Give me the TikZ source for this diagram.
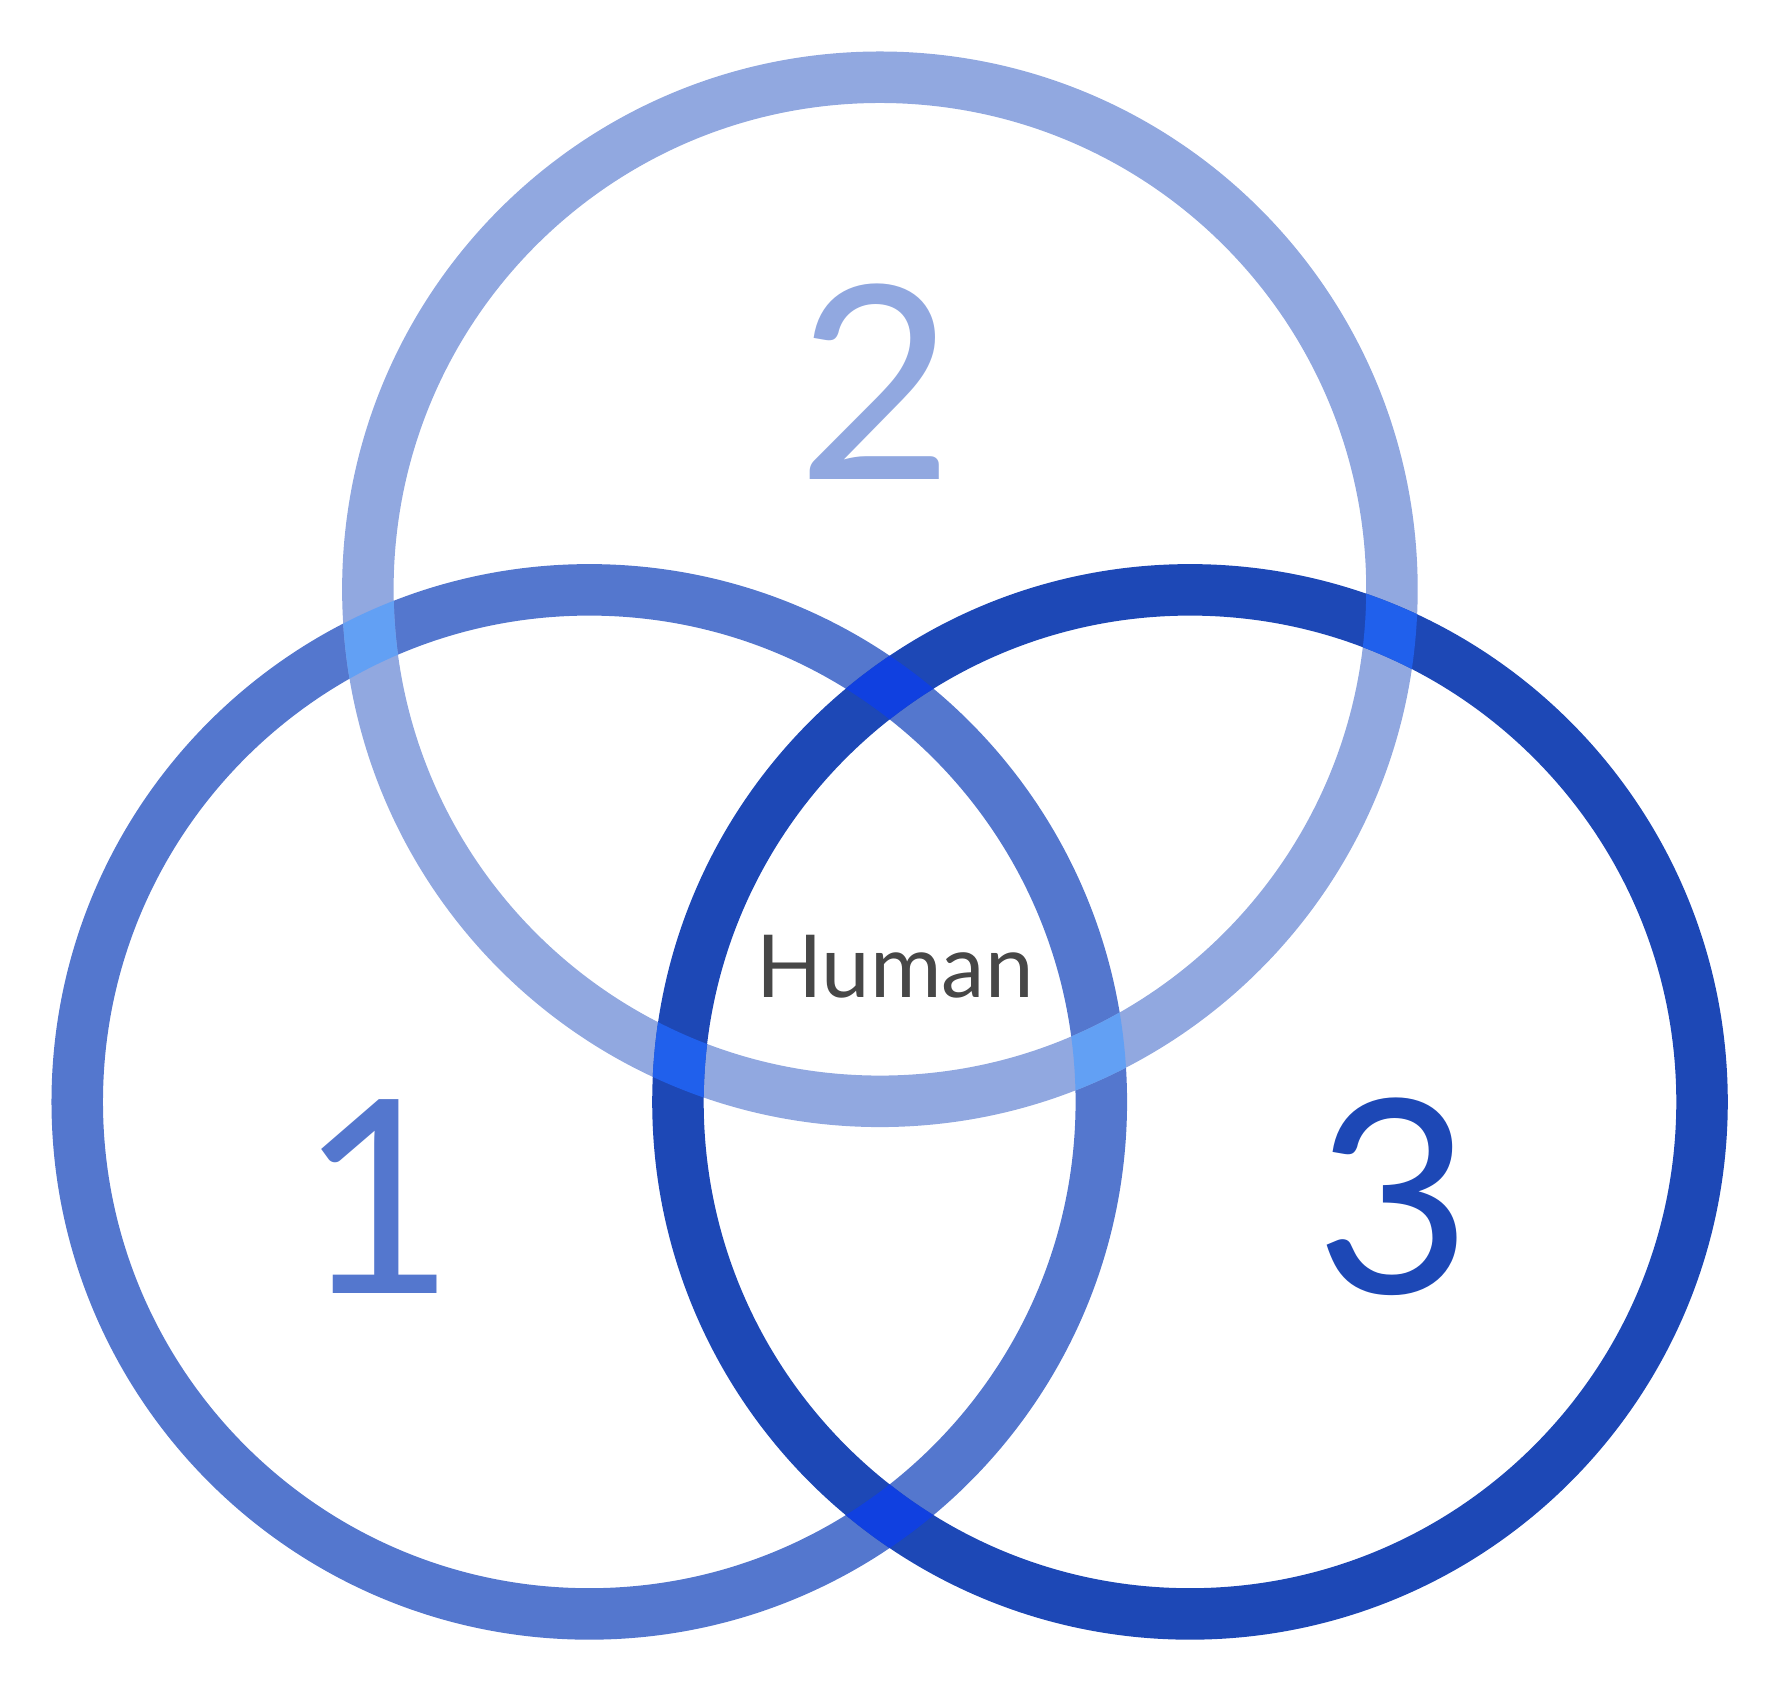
\documentclass[tikz,border=0pt]{standalone}
\usepackage{fontspec}
\setmainfont{Lato}
\begin{document}
\begin{tikzpicture}[x=0.5pt,y=-0.5pt,
  ring/.style={line width=22.5pt},
  num/.style={font=\fontsize{118}{118}\selectfont,inner sep=0}]
\definecolor{cA}{HTML}{5477CE}
\definecolor{cB}{HTML}{91A8E0}
\definecolor{cC}{HTML}{1D48B6}
\definecolor{oAB}{HTML}{62A0F4}
\definecolor{oBC}{HTML}{2060EC}
\definecolor{oAC}{HTML}{1040E0}
\useasboundingbox (0,0) rectangle (1560,1471);
\coordinate (c1) at (515,963);
\coordinate (c2) at (769,515);
\coordinate (c3) at (1040,963);
\draw[ring,cA] (c1) circle (447.5);
\draw[ring,cB] (c2) circle (447.5);
\draw[ring,cC] (c3) circle (447.5);
\begin{scope}[even odd rule]
\clip (c2) circle (470) (c2) circle (425);
\draw[ring,oAB] (c1) circle (447.5);
\draw[ring,oBC] (c3) circle (447.5);
\end{scope}
\begin{scope}[even odd rule]
\clip (c1) circle (470) (c1) circle (425);
\draw[ring,oAC] (c3) circle (447.5);
\end{scope}
\node[num,text=cB] (n2) at (765,334) {2};
\node[num,text=cA] (n1) at (330,1046) {1};
\node[num,text=cC] (n3) at (1218,1046) {3};
\node[font=\fontsize{38}{38}\selectfont,text=black!72,inner sep=0] (h) at (782,845) {Human};
\end{tikzpicture}
\end{document}
